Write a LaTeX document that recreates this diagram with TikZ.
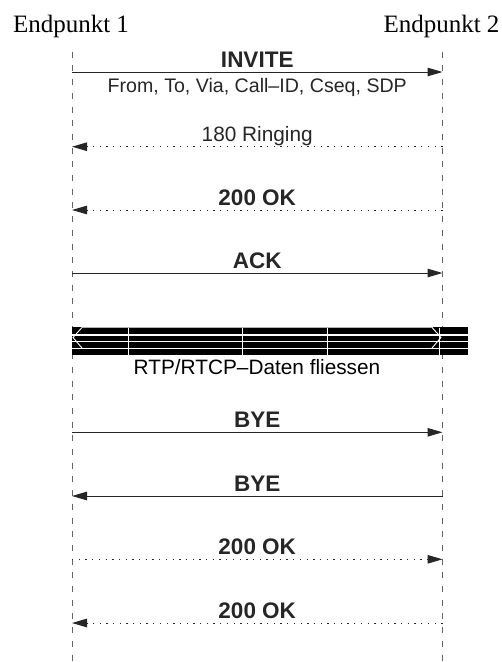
\documentclass[tikz,border=0pt]{standalone}
\usepackage{fontspec}
\setmainfont{Liberation Serif}
\setsansfont{Liberation Sans}
\usepackage{tikz}
\usetikzlibrary{arrows.meta,positioning}

\tikzset{
  lifeline/.style={draw=black!60, line width=0.9pt, dash pattern=on 6pt off 7.7pt},
  req/.style={-{Triangle[length=15pt,width=8.5pt]}, line width=1pt, black!85},
  resp/.style={req, dash pattern=on 1.3pt off 5.4pt},
  endpt/.style={font=\fontsize{25}{27}\selectfont, anchor=base},
  msgbold/.style={font=\sffamily\bfseries\fontsize{22.5}{24}\selectfont, anchor=base},
  msgplain/.style={font=\sffamily\fontsize{20.8}{22}\selectfont, anchor=base},
  msgsmall/.style={font=\sffamily\fontsize{19.6}{22}\selectfont, anchor=base},
}

\begin{document}
\begin{tikzpicture}[x=1pt, y=-1pt]
\useasboundingbox (0,0) rectangle (502,662);

% ---- endpoints and lifelines -------------------------------------------------
\node[endpt] (ep1) at (71,32) {Endpunkt 1};
\node[endpt] (ep2) at (441.5,32) {Endpunkt 2};
\coordinate (a0) at (72,51.7);    \coordinate (a1) at (72,662);
\coordinate (b0) at (442.5,51.7); \coordinate (b1) at (442.5,662);
\draw[lifeline] (a0) -- (a1);
\draw[lifeline] (b0) -- (b1);

% ---- message end points on the lifelines -------------------------------------
\foreach \n/\y in {inv/72, ring/146.7, ok1/210, ack/273, bye1/432.3, bye2/496, ok2/559.3, ok3/623}{
  \coordinate (l-\n) at (72,\y);
  \coordinate (r-\n) at (442.5,\y);
}

% ---- call setup --------------------------------------------------------------
\draw[req]  (l-inv) -- (r-inv)
  node[midway,msgbold,yshift=5pt] (m-inv) {INVITE}
  node[midway,msgsmall,yshift=-20pt] (m-hdr) {From, To, Via, Call--ID, Cseq, SDP};
\draw[resp] (r-ring) -- (l-ring) node[midway,msgplain,yshift=5pt] (m-ring) {180 Ringing};
\draw[resp] (r-ok1) -- (l-ok1) node[midway,msgbold,yshift=5pt] (m-ok1) {200 OK};
\draw[req]  (l-ack) -- (r-ack) node[midway,msgbold,yshift=5pt] (m-ack) {ACK};

% ---- media stream band -------------------------------------------------------
\coordinate (rtp-a) at (72,326.5);
\coordinate (rtp-b) at (468,355);
\fill[black] (rtp-a) rectangle (rtp-b);
\draw[black!30,line width=1pt] (82,327) -- (433,327);
\foreach \y in {335,341.6,348.2}
  \draw[white,line width=1.3pt] (72,\y) -- (468,\y);
\foreach \x in {128,242,327,439}
  \draw[white,line width=0.9pt] (\x,327.5) -- (\x,355);
\draw[white,line width=0.9pt] (82,327.5) -- (73,337.5) -- (82,348);
\draw[white,line width=0.9pt] (432,327.5) -- (441,337.5) -- (432,348);
\node[msgplain] (rtp) at (257,374) {RTP/RTCP--Daten fliessen};

% ---- teardown ----------------------------------------------------------------
\draw[req]  (l-bye1) -- (r-bye1) node[midway,msgbold,yshift=5pt] (m-bye1) {BYE};
\draw[req]  (r-bye2) -- (l-bye2) node[midway,msgbold,yshift=5pt] (m-bye2) {BYE};
\draw[resp] (l-ok2) -- (r-ok2) node[midway,msgbold,yshift=5pt] (m-ok2) {200 OK};
\draw[resp] (r-ok3) -- (l-ok3) node[midway,msgbold,yshift=5pt] (m-ok3) {200 OK};

\end{tikzpicture}
\end{document}
